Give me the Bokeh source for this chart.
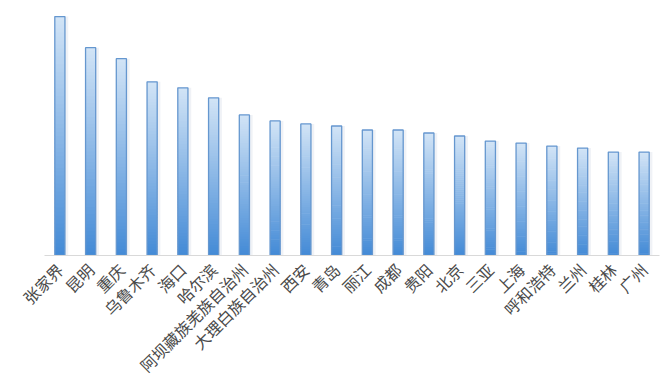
import math
from bokeh.plotting import figure
from bokeh.models import ColumnDataSource, Range1d, FactorRange
from bokeh.transform import dodge
from bokeh.embed import file_html
from bokeh.resources import INLINE

cities = ["张家界", "昆明", "重庆", "乌鲁木齐", "海口", "哈尔滨", "阿坝藏族羌族自治州",
          "大理白族自治州", "西安", "青岛", "丽江", "成都", "贵阳", "北京", "三亚",
          "上海", "呼和浩特", "兰州", "桂林", "广州"]
values = [238, 207, 196, 173, 167, 157, 140, 134, 131, 129, 125, 125, 122, 119, 114,
          112, 109, 107, 103, 103]

top_rgb = (0xd2, 0xe4, 0xf6)
bot_rgb = (0x43, 0x8a, 0xd6)
N = 60

xs, bots, tops, cols = [], [], [], []
for c, v in zip(cities, values):
    for k in range(N):
        t = (k + 0.5) / N  # 0 bottom -> 1 top
        r = [round(b + (a - b) * t) for a, b in zip(top_rgb, bot_rgb)]
        xs.append(c)
        bots.append(v * k / N)
        tops.append(min(v, v * (k + 1.3) / N))
        cols.append("#%02x%02x%02x" % tuple(r))

seg = ColumnDataSource(dict(x=xs, bottom=bots, top=tops, color=cols))
src = ColumnDataSource(dict(x=cities, top=values))

p = figure(width=660, height=388, x_range=FactorRange(*cities, range_padding=0),
           y_range=Range1d(0, 246), output_backend="svg", toolbar_location=None,
           min_border_left=44, min_border_right=1, min_border_top=8, min_border_bottom=0)
p.outline_line_color = None
p.background_fill_color = "white"
p.border_fill_color = "white"
p.xgrid.visible = False
p.ygrid.visible = False
p.yaxis.visible = False

# soft shadow
p.vbar(x=dodge("x", 0.06, range=p.x_range), top="top", width=0.42, source=src,
       fill_color="#e9edf2", fill_alpha=0.7, line_color=None)

p.vbar(x="x", bottom="bottom", top="top", width=0.33, source=seg,
       fill_color="color", line_color=None)
p.vbar(x="x", top="top", width=0.33, source=src, fill_alpha=0,
       line_color="#6597cf", line_width=1.3)

ax = p.xaxis[0]
ax.axis_line_color = "#d9d9d9"
ax.axis_line_width = 1
ax.major_tick_line_color = None
ax.minor_tick_line_color = None
ax.major_label_orientation = math.pi / 4
ax.major_label_text_font = "Noto Sans CJK SC"
ax.major_label_text_font_size = "16px"
ax.major_label_text_color = "#4a4a4a"
ax.major_label_standoff = 5

open("out.html", "w").write(file_html(p, INLINE))
